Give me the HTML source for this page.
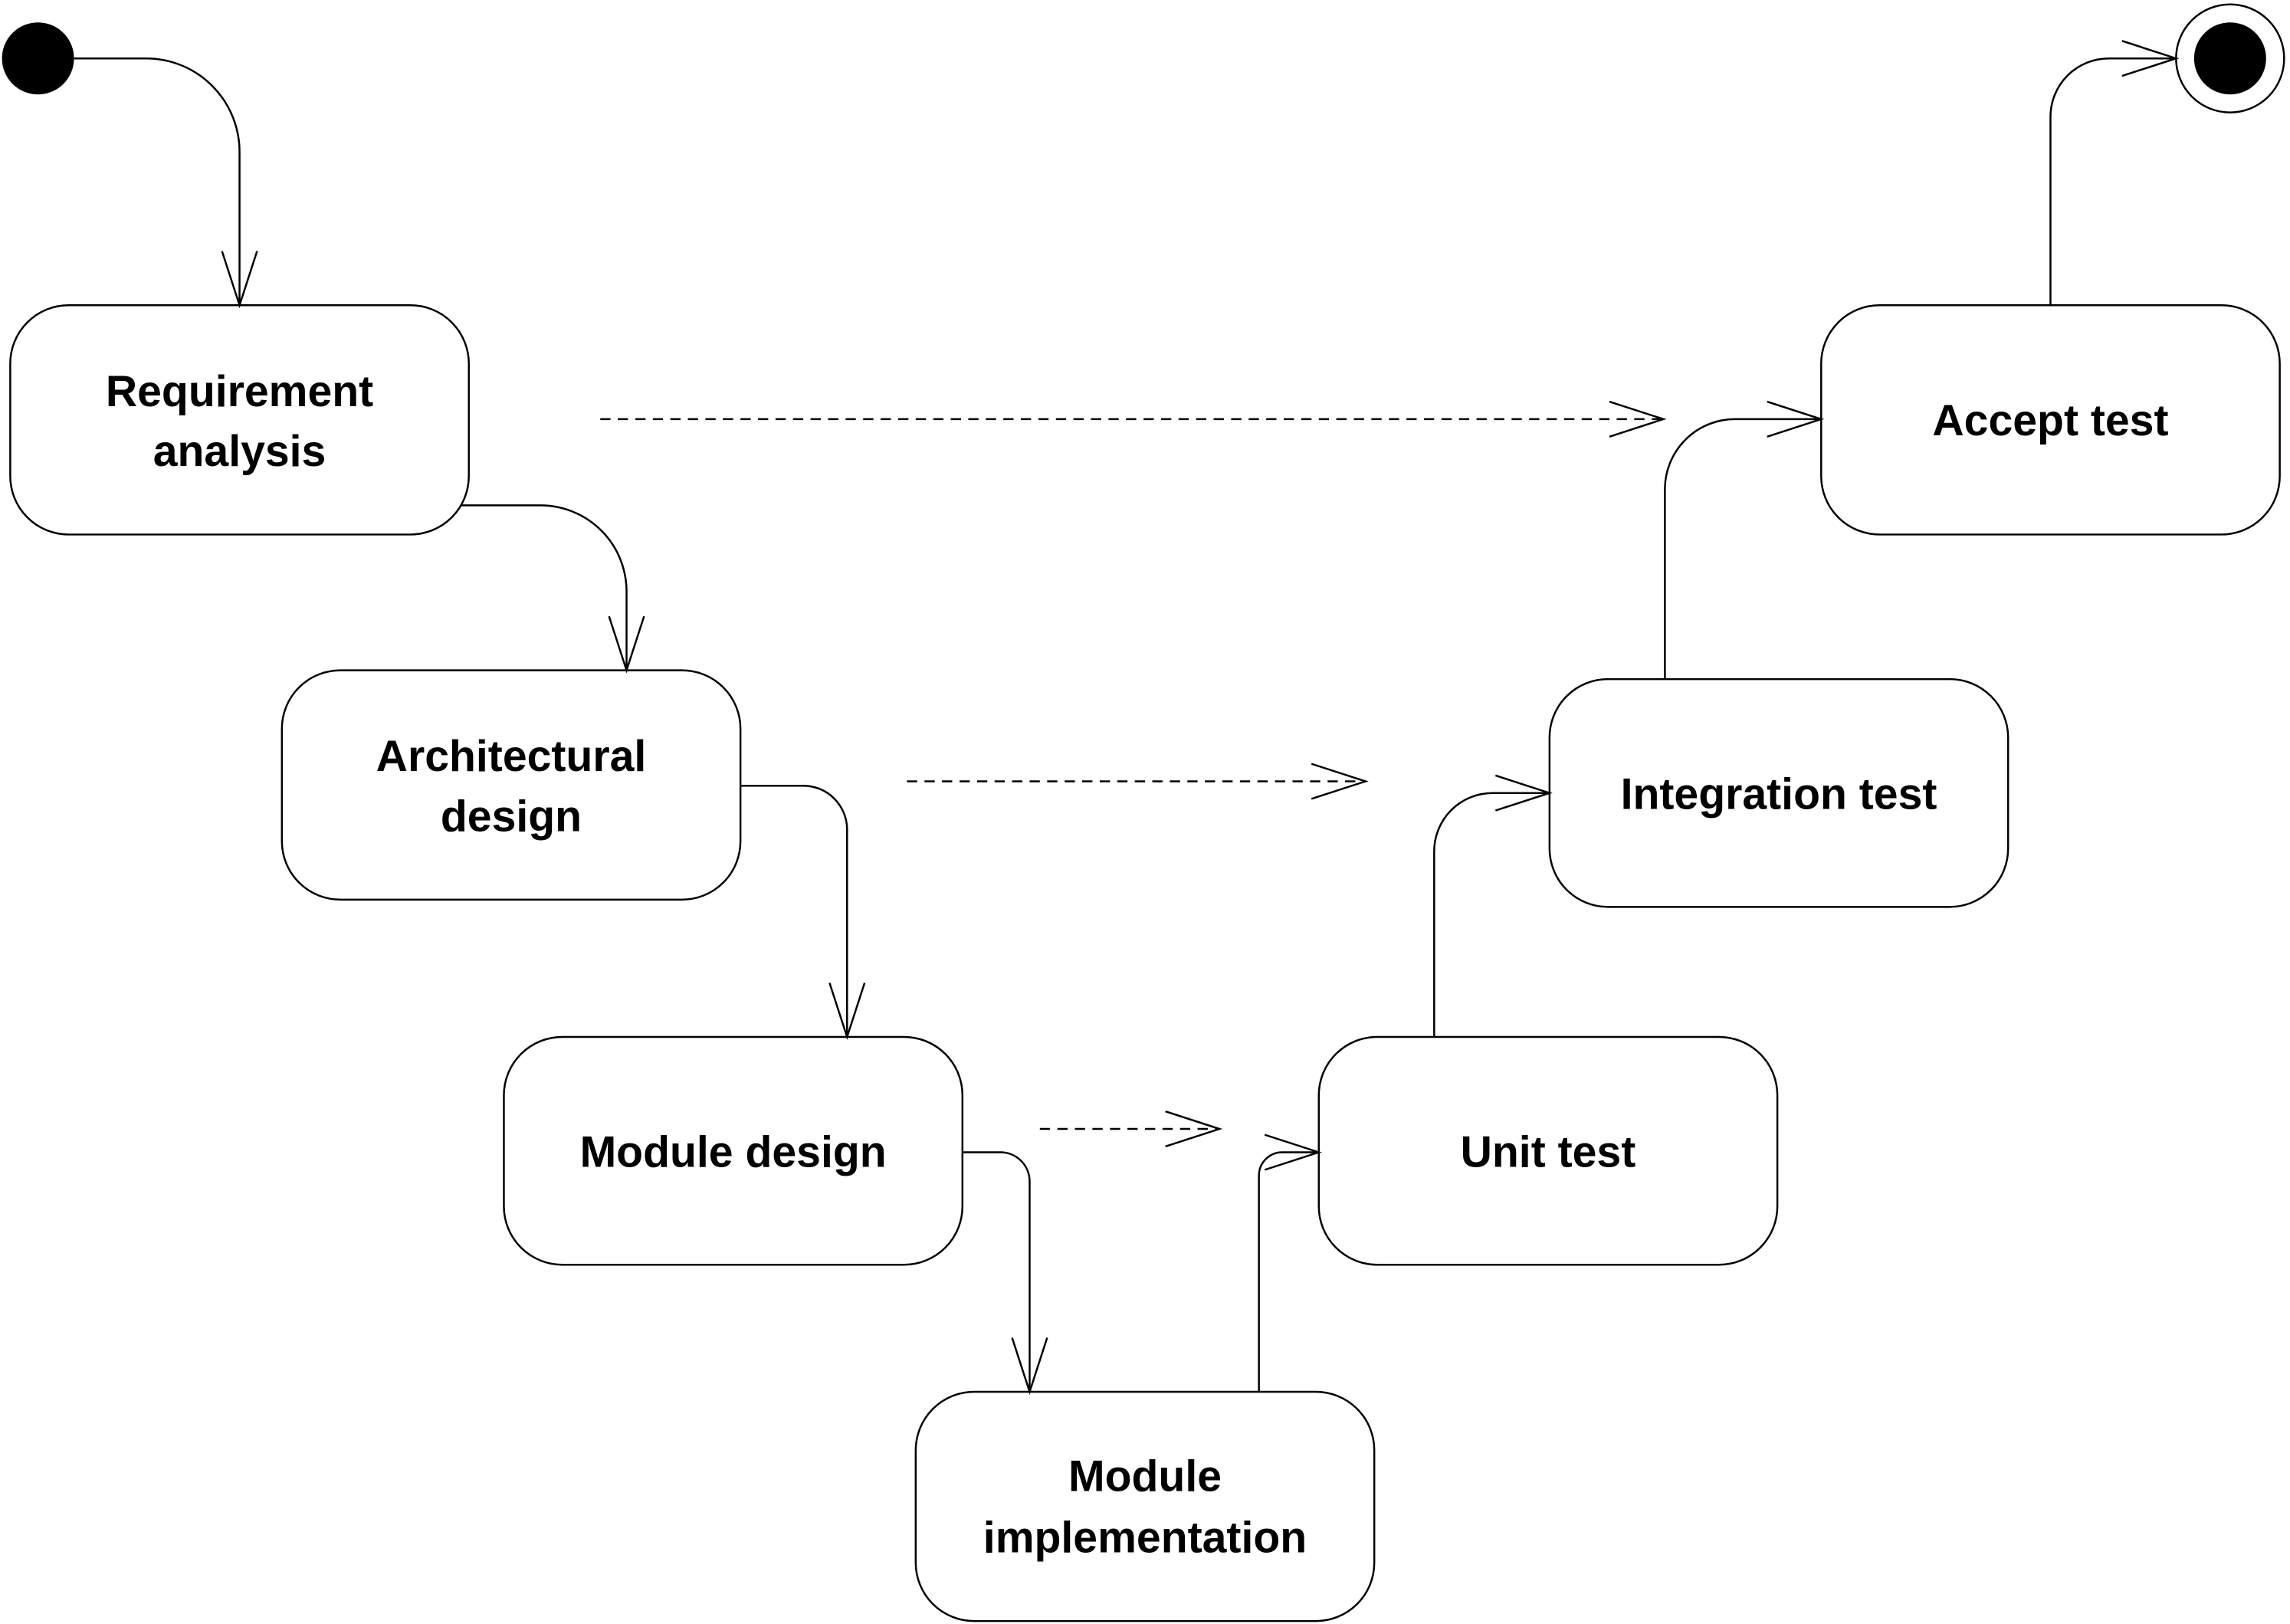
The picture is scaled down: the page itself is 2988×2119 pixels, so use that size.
<!DOCTYPE html>
<html><head><meta charset="utf-8"><style>html,body{margin:0;padding:0;background:#fff}svg{display:block}</style></head>
<body>
<svg width="2988" height="2119" viewBox="0 0 1568 1112" xmlns="http://www.w3.org/2000/svg">
<g fill="none" stroke="#000" stroke-width="1.3">
<circle cx="26" cy="40" r="24" fill="#000"/>
<circle cx="1527" cy="40" r="37" fill="#fff"/>
<circle cx="1527" cy="40" r="24" fill="#000"/>
<rect x="7" y="209" width="314" height="157" rx="40" fill="#fff"/>
<rect x="193" y="459" width="314" height="157" rx="40" fill="#fff"/>
<rect x="345" y="710" width="314" height="156" rx="40" fill="#fff"/>
<rect x="627" y="953" width="314" height="157" rx="40" fill="#fff"/>
<rect x="903" y="710" width="314" height="156" rx="40" fill="#fff"/>
<rect x="1061" y="465" width="314" height="156" rx="40" fill="#fff"/>
<rect x="1247" y="209" width="314" height="157" rx="40" fill="#fff"/>
<path d="M50 40 H100 A64 64 0 0 1 164 104 V209 M152 172 L164 209 L176 172"/>
<path d="M316 346 H370 A59 59 0 0 1 429 405 V459 M417 422 L429 459 L441 422"/>
<path d="M507 538 H550 A30 30 0 0 1 580 568 V710 M568 673 L580 710 L592 673"/>
<path d="M659 789 H685 A20 20 0 0 1 705 809 V953 M693 916 L705 953 L717 916"/>
<path d="M862 953 V805 A16 16 0 0 1 878 789 H903 M866 777 L903 789 L866 801"/>
<path d="M982 710 V583 A40 40 0 0 1 1022 543 H1061 M1024 531 L1061 543 L1024 555"/>
<path d="M1140 465 V335 A48 48 0 0 1 1188 287 H1247 M1210 275 L1247 287 L1210 299"/>
<path d="M1404 209 V80 A40 40 0 0 1 1444 40 H1490 M1453 28 L1490 40 L1453 52"/>
<path d="M411 287 H1139" stroke-dasharray="7 5"/>
<path d="M1102 275 L1139 287 L1102 299"/>
<path d="M621 535 H935" stroke-dasharray="7 5"/>
<path d="M898 523 L935 535 L898 547"/>
<path d="M712 773 H835" stroke-dasharray="7 5"/>
<path d="M798 761 L835 773 L798 785"/>
</g>
<g font-family="Liberation Sans, sans-serif" font-weight="bold" font-size="30" text-anchor="middle">
<text x="164" y="278">Requirement</text><text x="164" y="319">analysis</text>
<text x="350" y="528">Architectural</text><text x="350" y="569">design</text>
<text x="502" y="799">Module design</text>
<text x="784" y="1021">Module</text><text x="784" y="1063">implementation</text>
<text x="1060" y="799">Unit test</text>
<text x="1218" y="554">Integration test</text>
<text x="1404" y="298">Accept test</text>
</g>
</svg>
</body></html>
